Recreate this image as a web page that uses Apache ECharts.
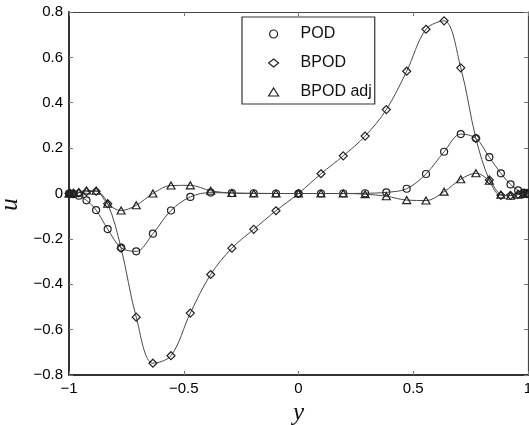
<!DOCTYPE html>
<html>
<head>
<meta charset="utf-8">
<script src="https://cdn.jsdelivr.net/npm/echarts@6/dist/echarts.min.js"></script>
<style>
html,body{margin:0;padding:0;background:#fff;}
#c{width:529px;height:425px;}
</style>
</head>
<body>
<div id="c"></div>
<script>
// wall-normal coordinate y (Chebyshev grid points)
var yPts = [-1, -0.99518, -0.98079, -0.95694, -0.92388, -0.88192, -0.83147, -0.77301, -0.70711, -0.63439, -0.55557, -0.4714, -0.38268, -0.29028, -0.19509, -0.09802, 0, 0.09802, 0.19509, 0.29028, 0.38268, 0.4714, 0.55557, 0.63439, 0.70711, 0.77301, 0.83147, 0.88192, 0.92388, 0.95694, 0.98079, 0.99518, 1];
var podU = [0, 0, -0.003, -0.01, -0.03, -0.073, -0.157, -0.239, -0.255, -0.177, -0.075, -0.015, 0.004, 0.002, 0.001, 0, 0, 0, 0, 0.001, 0.005, 0.021, 0.086, 0.184, 0.262, 0.243, 0.16, 0.089, 0.04, 0.014, 0.004, 0, 0];
var bpodU = [0, 0, 0.001, 0.003, 0.008, 0.01, -0.045, -0.241, -0.545, -0.748, -0.715, -0.527, -0.357, -0.241, -0.158, -0.076, 0, 0.087, 0.166, 0.253, 0.37, 0.539, 0.724, 0.761, 0.554, 0.243, 0.06, -0.008, -0.008, -0.004, -0.001, 0, 0];
var bpodAdjU = [0, 0, 0.001, 0.005, 0.013, 0.012, -0.045, -0.075, -0.052, 0.0, 0.035, 0.036, 0.012, 0.002, 0, 0, 0, 0, 0, -0.003, -0.012, -0.029, -0.031, 0.008, 0.063, 0.089, 0.056, -0.005, -0.01, -0.005, -0.001, 0, 0];
var seriesNames = ['POD', 'BPOD', 'BPOD adj'];
var seriesSymbols = ['circle', 'diamond', 'triangle'];
var xTicks = [-1, -0.5, 0, 0.5, 1];
var yTicks = [-0.8, -0.6, -0.4, -0.2, 0, 0.2, 0.4, 0.6, 0.8];

function zip(xs, ys) { return xs.map(function (x, i) { return [x, ys[i]]; }); }
function fmt(v) {
  var s = String(Number(v.toFixed(2)));
  return s.replace('-', '\u2212');
}
var allU = [podU, bpodU, bpodAdjU];
var lineColor = '#4a4a4a';
var markColor = '#222';
var font = 'Liberation Sans';
var hollow = {color: 'rgba(0,0,0,0)', borderColor: markColor, borderWidth: 1.2};

var chart = echarts.init(document.getElementById('c'), null, {renderer: 'canvas'});
var series = seriesNames.map(function (n, i) {
  return {
    name: n,
    type: 'line',
    data: zip(yPts, allU[i]),
    smooth: 0.35,
    symbol: seriesSymbols[i],
    symbolSize: i === 2 ? [8, 7] : (i === 1 ? 8 : 7),
    showAllSymbol: true,
    lineStyle: {color: lineColor, width: 1},
    itemStyle: hollow,
    emphasis: {disabled: true},
    z: 2 + i
  };
});

var axisLineBold = {show: true, onZero: false, lineStyle: {color: '#333', width: 2}};
var axisLineThin = {show: true, onZero: false, lineStyle: {color: '#444', width: 1.2}};
var tick = {show: true, inside: true, length: 4, lineStyle: {color: '#777', width: 1}};

chart.setOption({
  animation: false,
  backgroundColor: '#fff',
  grid: {left: 69, right: 1, top: 12, bottom: 50, containLabel: false, outerBoundsMode: 'none'},
  xAxis: [{
    type: 'value', min: -1, max: 1, interval: 0.5, position: 'bottom',
    axisLine: axisLineBold, axisTick: tick, splitLine: {show: false},
    axisLabel: {formatter: fmt, color: '#000', fontFamily: font, fontSize: 15, margin: 6},
    name: 'y', nameLocation: 'middle', nameGap: 26,
    nameTextStyle: {fontFamily: 'Liberation Serif', fontStyle: 'italic', fontSize: 25, color: '#111'}
  }, {
    type: 'value', min: -1, max: 1, interval: 0.5, position: 'top',
    axisLine: axisLineThin, axisTick: tick, axisLabel: {show: false}, splitLine: {show: false}
  }],
  yAxis: [{
    type: 'value', min: -0.8, max: 0.8, interval: 0.2, position: 'left',
    axisLine: axisLineBold, axisTick: tick, splitLine: {show: false},
    axisLabel: {formatter: fmt, color: '#000', fontFamily: font, fontSize: 15, margin: 6},
    name: 'u', nameLocation: 'middle', nameGap: 36, nameRotate: 90,
    nameTextStyle: {fontFamily: 'Liberation Serif', fontStyle: 'italic', fontSize: 25, color: '#111', padding: [0, 22, 0, 0]}
  }, {
    type: 'value', min: -0.8, max: 0.8, interval: 0.2, position: 'right',
    axisLine: axisLineThin, axisTick: tick, axisLabel: {show: false}, splitLine: {show: false}
  }],
  legend: {
    orient: 'vertical',
    left: 242, top: 17,
    padding: [9, 3, 4, 26],
    itemWidth: 10, itemHeight: 8, itemGap: 13,
    symbolKeepAspect: true,
    backgroundColor: '#fff',
    borderColor: '#333', borderWidth: 1.2,
    itemStyle: hollow,
    textStyle: {fontFamily: font, fontSize: 16, color: '#111', padding: [0, 0, 0, 17]},
    data: seriesNames.map(function (n, i) {
      return {name: n, icon: seriesSymbols[i], itemStyle: hollow};
    })
  },
  series: series
});
</script>
</body>
</html>
